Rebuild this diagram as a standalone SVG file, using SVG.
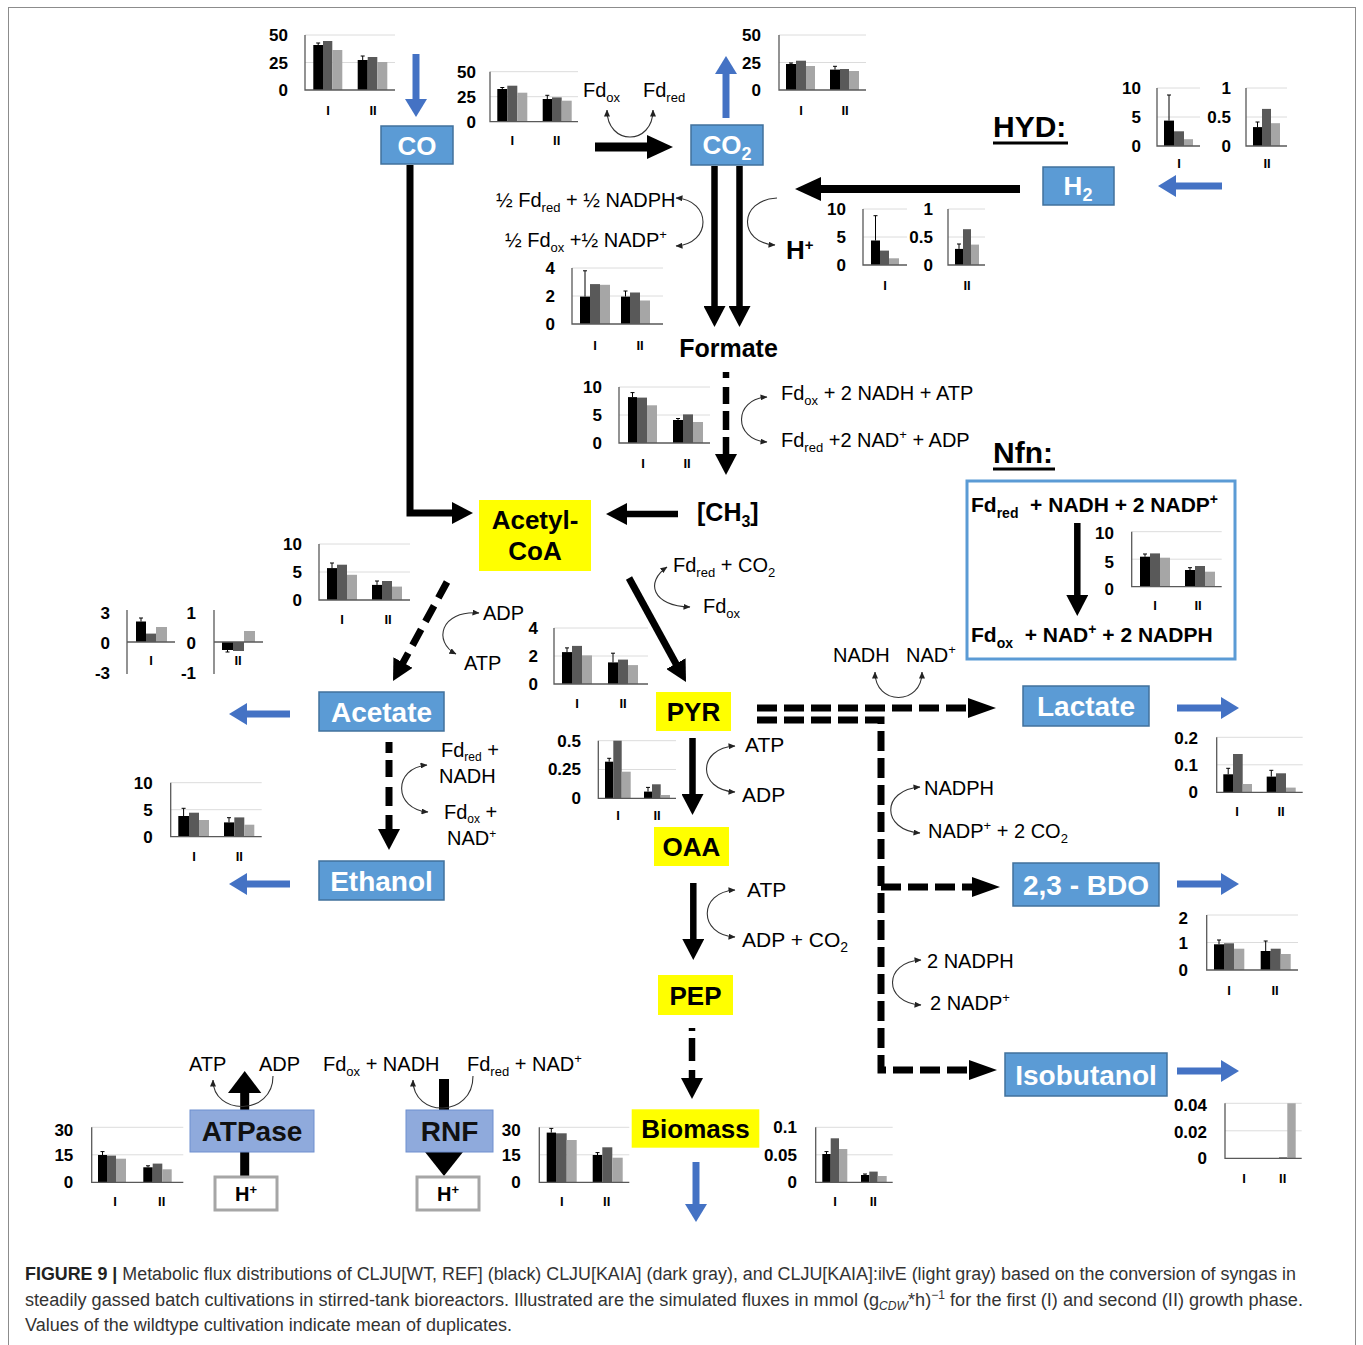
<svg xmlns="http://www.w3.org/2000/svg" width="1363" height="1345" viewBox="0 0 1363 1345">
<style>
.yl{font-family:"Liberation Sans",Arial,sans-serif;font-weight:bold;font-size:17px;text-anchor:end;fill:#000}
.xl{font-family:"Liberation Sans",Arial,sans-serif;font-weight:bold;font-size:13px;text-anchor:middle;fill:#000}
.ax{stroke:#595959;stroke-width:1.3;fill:none}
.gr{stroke:#dcdcdc;stroke-width:1;fill:none}
.k{fill:#000}.d{fill:#595959}.l{fill:#a6a6a6}
.eb{stroke:#000;stroke-width:1;fill:none}
.lb{font-family:"Liberation Sans",Arial,sans-serif;font-size:20px;fill:#000}
.lb21{font-family:"Liberation Sans",Arial,sans-serif;font-size:21px;fill:#000}
.bb{fill:#5b9bd5;stroke:#41719c;stroke-width:1.5}
.bt{font-family:"Liberation Sans",Arial,sans-serif;font-weight:bold;font-size:28px;fill:#fff;text-anchor:middle}
.bt26{font-family:"Liberation Sans",Arial,sans-serif;font-weight:bold;font-size:26px;fill:#fff;text-anchor:middle}
.yb{fill:#ffff00}
.yt{font-family:"Liberation Sans",Arial,sans-serif;font-weight:bold;font-size:26px;fill:#000;text-anchor:middle}
.pb{fill:#8faadc;stroke:#6f8fcf;stroke-width:1}
.pt{font-family:"Liberation Sans",Arial,sans-serif;font-weight:bold;font-size:28px;fill:#111;text-anchor:middle}
.hb{fill:#fff;stroke:#a6a6a6;stroke-width:3}
.ht{font-family:"Liberation Sans",Arial,sans-serif;font-weight:bold;font-size:20px;fill:#000;text-anchor:middle}
.bl{font-family:"Liberation Sans",Arial,sans-serif;font-weight:bold;fill:#000}
.arc{fill:none;stroke:#333;stroke-width:1.1;marker-end:url(#hs)}
.arc2{fill:none;stroke:#333;stroke-width:1.1;marker-start:url(#hs);marker-end:url(#hs)}
.arcS{fill:none;stroke:#333;stroke-width:1.1;marker-start:url(#hs)}
.sh{stroke:#000;stroke-width:7;fill:none;marker-end:url(#hk)}
.ds{stroke:#000;stroke-width:7;fill:none;stroke-dasharray:20 7;marker-end:url(#hd)}
.blu{stroke:#4472c4;stroke-width:7;fill:none;marker-end:url(#hb)}
.cap{font-family:"Liberation Sans",Arial,sans-serif;font-size:18px;fill:#333}
</style>
<defs>
<marker id="hk" markerUnits="userSpaceOnUse" viewBox="0 0 21 22" markerWidth="21" markerHeight="22" refX="1" refY="11" orient="auto"><path d="M0,0L21,11L0,22z" fill="#000"/></marker>
<marker id="hK" markerUnits="userSpaceOnUse" viewBox="0 0 26 24" markerWidth="26" markerHeight="24" refX="1" refY="12" orient="auto"><path d="M0,0L26,12L0,24z" fill="#000"/></marker>
<marker id="hd" markerUnits="userSpaceOnUse" viewBox="0 0 28 20" markerWidth="28" markerHeight="20" refX="1" refY="10" orient="auto"><path d="M0,0L28,10L0,20z" fill="#000"/></marker>
<marker id="hb" markerUnits="userSpaceOnUse" viewBox="0 0 18 22" markerWidth="18" markerHeight="22" refX="1" refY="11" orient="auto"><path d="M0,0L18,11L0,22z" fill="#4472c4"/></marker>
<marker id="hs" markerUnits="userSpaceOnUse" viewBox="0 0 7 6" markerWidth="7" markerHeight="6" refX="6.5" refY="3" orient="auto-start-reverse"><path d="M0,0L7,3L0,6z" fill="#222"/></marker>
</defs>
<rect x="8.5" y="7.5" width="1347" height="1345" fill="#fff" stroke="#8c8c8c" stroke-width="1"/>

<g id="charts">
<g id="chart-co">
<path class="gr" d="M305,35H395M305,62.5H395"/>
<rect class="k" x="313.3" y="45" width="9.7" height="45"/><rect class="d" x="323" y="41" width="9.3" height="49"/><rect class="l" x="332.3" y="50" width="10" height="40"/>
<rect class="k" x="357.7" y="60" width="10" height="30"/><rect class="d" x="367.7" y="57" width="9.6" height="33"/><rect class="l" x="377.3" y="62" width="10" height="28"/>
<path class="eb" d="M318.2,45V43M316.2,43h4M362.7,60V56M360.7,56h4"/>
<path class="ax" d="M305,35V90H395"/>
<text class="yl" x="288" y="41">50</text><text class="yl" x="288" y="68.5">25</text><text class="yl" x="288" y="96">0</text>
<text class="xl" x="328" y="114.5">I</text><text class="xl" x="373" y="114.5">II</text>
</g>
<g id="chart-co2in">
<path class="gr" d="M490,71.7H578M490,96.7H578"/>
<rect class="k" x="497.3" y="89" width="10" height="32.7"/><rect class="d" x="507.3" y="85.7" width="10" height="36"/><rect class="l" x="517.3" y="92.7" width="10" height="29"/>
<rect class="k" x="542.7" y="99" width="9.3" height="22.7"/><rect class="d" x="552" y="97.4" width="9.7" height="24.3"/><rect class="l" x="561.7" y="100.7" width="10" height="21"/>
<path class="eb" d="M502.3,89V87.5M500.3,87.5h4M547.3,99V95.3M545.3,95.3h4"/>
<path class="ax" d="M490,71.7V121.7H578"/>
<text class="yl" x="476" y="77.7">50</text><text class="yl" x="476" y="102.7">25</text><text class="yl" x="476" y="127.7">0</text>
<text class="xl" x="512.3" y="145">I</text><text class="xl" x="556.7" y="145">II</text>
</g>
<g id="chart-co2out">
<path class="gr" d="M779,35H866M779,62.5H866"/>
<rect class="k" x="786" y="64" width="10" height="26"/><rect class="d" x="796" y="60.7" width="10" height="29.3"/><rect class="l" x="806" y="66" width="9" height="24"/>
<rect class="k" x="830" y="69.6" width="10" height="20.4"/><rect class="d" x="840" y="69" width="9" height="21"/><rect class="l" x="849" y="71" width="10" height="19"/>
<path class="eb" d="M791,64V63M789,63h4M835,69.6V66.3M833,66.3h4"/>
<path class="ax" d="M779,35V90H866"/>
<text class="yl" x="761" y="41">50</text><text class="yl" x="761" y="68.5">25</text><text class="yl" x="761" y="96">0</text>
<text class="xl" x="801" y="114.5">I</text><text class="xl" x="845" y="114.5">II</text>
</g>
<g id="chart-hyd1">
<path class="gr" d="M1157,88H1200M1157,117H1200"/>
<rect class="k" x="1164" y="120.6" width="10" height="25.4"/><rect class="d" x="1174" y="131.3" width="10" height="14.7"/><rect class="l" x="1184" y="139.2" width="9" height="6.8"/>
<path class="eb" d="M1169,120.6V95M1167,95h4"/>
<path class="ax" d="M1157,88V146H1200"/>
<text class="yl" x="1141" y="94">10</text><text class="yl" x="1141" y="123">5</text><text class="yl" x="1141" y="152">0</text>
<text class="xl" x="1179" y="167.5">I</text>
</g>
<g id="chart-hyd2">
<path class="gr" d="M1246,88H1287M1246,117H1287"/>
<rect class="k" x="1253" y="127.1" width="9" height="18.9"/><rect class="d" x="1262" y="108.9" width="9" height="37.1"/><rect class="l" x="1271" y="123.2" width="9" height="22.8"/>
<path class="eb" d="M1257.5,127.1V122M1255.5,122h4"/>
<path class="ax" d="M1246,88V146H1287"/>
<text class="yl" x="1231" y="94">1</text><text class="yl" x="1231" y="123">0.5</text><text class="yl" x="1231" y="152">0</text>
<text class="xl" x="1267" y="167.5">II</text>
</g>
<g id="chart-h2a">
<path class="gr" d="M863,209H907M863,237H907"/>
<rect class="k" x="871" y="240.5" width="9" height="24.5"/><rect class="d" x="880" y="250.6" width="9" height="14.4"/><rect class="l" x="889" y="258.3" width="10" height="6.7"/>
<path class="eb" d="M875.5,240.5V215.7M873.5,215.7h4"/>
<path class="ax" d="M863,209V265H907"/>
<text class="yl" x="846" y="215">10</text><text class="yl" x="846" y="243">5</text><text class="yl" x="846" y="271">0</text>
<text class="xl" x="885" y="289.5">I</text>
</g>
<g id="chart-h2b">
<path class="gr" d="M948,209H985M948,237H985"/>
<rect class="k" x="955" y="248.9" width="8" height="16.1"/><rect class="d" x="963" y="229.2" width="8" height="35.8"/><rect class="l" x="971" y="244.6" width="8" height="20.4"/>
<path class="eb" d="M959,248.9V244M957,244h4"/>
<path class="ax" d="M948,209V265H985"/>
<text class="yl" x="933" y="215">1</text><text class="yl" x="933" y="243">0.5</text><text class="yl" x="933" y="271">0</text>
<text class="xl" x="967" y="289.5">II</text>
</g>
<g id="chart-fdh">
<path class="gr" d="M572,268H663M572,296H663"/>
<rect class="k" x="580" y="296.6" width="10" height="27.4"/><rect class="d" x="590" y="284.1" width="10" height="39.9"/><rect class="l" x="600" y="284.8" width="10" height="39.2"/>
<rect class="k" x="621" y="296.6" width="9" height="27.4"/><rect class="d" x="630" y="292.5" width="10" height="31.5"/><rect class="l" x="640" y="300.5" width="10" height="23.5"/>
<path class="eb" d="M585,296.6V270.8M583,270.8h4M625.5,296.6V291M623.5,291h4"/>
<path class="ax" d="M572,268V324H663"/>
<text class="yl" x="555" y="274">4</text><text class="yl" x="555" y="302">2</text><text class="yl" x="555" y="330">0</text>
<text class="xl" x="595" y="349.5">I</text><text class="xl" x="640" y="349.5">II</text>
</g>
<g id="chart-fthfs">
<path class="gr" d="M619,387H710M619,415H710"/>
<rect class="k" x="628" y="397.1" width="9" height="45.9"/><rect class="d" x="637" y="397.6" width="10" height="45.4"/><rect class="l" x="647" y="405.3" width="10" height="37.7"/>
<rect class="k" x="673" y="420" width="10" height="23"/><rect class="d" x="683" y="414.4" width="10" height="28.6"/><rect class="l" x="693" y="422" width="10" height="21"/>
<path class="eb" d="M632.5,397.1V392.6M630.5,392.6h4M678,420V418.5M676,418.5h4"/>
<path class="ax" d="M619,387V443H710"/>
<text class="yl" x="602" y="393">10</text><text class="yl" x="602" y="421">5</text><text class="yl" x="602" y="449">0</text>
<text class="xl" x="643" y="467.5">I</text><text class="xl" x="687" y="467.5">II</text>
</g>
<g id="chart-pta">
<path class="gr" d="M319,544H410M319,572H410"/>
<rect class="k" x="327" y="568.1" width="10" height="31.9"/><rect class="d" x="337" y="564.7" width="10" height="35.3"/><rect class="l" x="347" y="574.8" width="10" height="25.2"/>
<rect class="k" x="372" y="584.9" width="10" height="15.1"/><rect class="d" x="382" y="581" width="10" height="19"/><rect class="l" x="392" y="586.6" width="10" height="13.4"/>
<path class="eb" d="M332,568.1V563M330,563h4M377,584.9V581M375,581h4"/>
<path class="ax" d="M319,544V600H410"/>
<text class="yl" x="302" y="550">10</text><text class="yl" x="302" y="578">5</text><text class="yl" x="302" y="606">0</text>
<text class="xl" x="342" y="623.5">I</text><text class="xl" x="388" y="623.5">II</text>
</g>
<g id="chart-ac1">
<rect class="k" x="136" y="621.5" width="10" height="20.5"/><rect class="d" x="146" y="633.6" width="10" height="8.4"/><rect class="l" x="156" y="627" width="11" height="15"/>
<path class="eb" d="M141,621.5V618M139,618h4"/>
<path class="ax" d="M127,610V674M127,642H175"/>
<text class="yl" x="110" y="619">3</text><text class="yl" x="110" y="649">0</text><text class="yl" x="110" y="679">-3</text>
<text class="xl" x="151" y="664.5">I</text>
</g>
<g id="chart-ac2">
<rect class="k" x="222" y="642" width="11" height="8"/><rect class="d" x="233" y="642" width="11" height="9"/><rect class="l" x="244" y="631" width="11" height="11"/>
<path class="eb" d="M227.5,650V652M225.5,652h4"/>
<path class="ax" d="M214,610V674M214,642H263"/>
<text class="yl" x="196" y="619">1</text><text class="yl" x="196" y="649">0</text><text class="yl" x="196" y="679">-1</text>
<text class="xl" x="238" y="664.5">II</text>
</g>
<g id="chart-ack">
<path class="gr" d="M554,628H648M554,656H648"/>
<rect class="k" x="562" y="652.1" width="10" height="31.9"/><rect class="d" x="572" y="645.9" width="10" height="38.1"/><rect class="l" x="582" y="655.4" width="10" height="28.6"/>
<rect class="k" x="608" y="662.4" width="10" height="21.6"/><rect class="d" x="618" y="659.6" width="10" height="24.4"/><rect class="l" x="628" y="665.1" width="10" height="18.9"/>
<path class="eb" d="M567,652.1V647.9M565,647.9h4M613,662.4V653.2M611,653.2h4"/>
<path class="ax" d="M554,628V684H648"/>
<text class="yl" x="538" y="634">4</text><text class="yl" x="538" y="662">2</text><text class="yl" x="538" y="690">0</text>
<text class="xl" x="577" y="707.5">I</text><text class="xl" x="623" y="707.5">II</text>
</g>
<g id="chart-nfn">
<path class="gr" d="M1131.7,531.7H1221.7M1131.7,559.2H1221.7"/>
<rect class="k" x="1140" y="556.7" width="10" height="30"/><rect class="d" x="1150" y="553.4" width="10" height="33.3"/><rect class="l" x="1160" y="557.7" width="10" height="29"/>
<rect class="k" x="1185" y="570" width="10" height="16.7"/><rect class="d" x="1195" y="566" width="10" height="20.7"/><rect class="l" x="1205" y="571.7" width="10" height="15"/>
<path class="eb" d="M1145,556.7V554M1143,554h4M1190,570V567.7M1188,567.7h4"/>
<path class="ax" d="M1131.7,531.7V586.7H1221.7"/>
<text class="yl" x="1114" y="539">10</text><text class="yl" x="1114" y="568">5</text><text class="yl" x="1114" y="595">0</text>
<text class="xl" x="1155" y="609.5">I</text><text class="xl" x="1198" y="609.5">II</text>
</g>
<g id="chart-pyc">
<path class="gr" d="M598.3,740.7H676M598.3,769.5H676"/>
<rect class="k" x="605" y="761.7" width="8.3" height="36.6"/><rect class="d" x="613.3" y="740.7" width="8.4" height="57.6"/><rect class="l" x="621.7" y="771.7" width="9" height="26.6"/>
<rect class="k" x="644" y="791.6" width="8" height="6.7"/><rect class="d" x="652" y="784.3" width="8.7" height="14"/><rect class="l" x="660.7" y="795" width="9.3" height="3.3"/>
<path class="eb" d="M609.2,761.7V758.3M607.2,758.3h4M648,791.6V787.4M646,787.4h4"/>
<path class="ax" d="M598.3,740.7V798.3H676"/>
<text class="yl" x="581" y="746.7">0.5</text><text class="yl" x="581" y="775">0.25</text><text class="yl" x="581" y="804">0</text>
<text class="xl" x="618" y="819.5">I</text><text class="xl" x="657" y="819.5">II</text>
</g>
<g id="chart-lac">
<path class="gr" d="M1216.7,737.3H1302.7M1216.7,764.8H1302.7"/>
<rect class="k" x="1223.3" y="774.3" width="9.7" height="18"/><rect class="d" x="1233" y="754" width="9.7" height="38.3"/><rect class="l" x="1242.7" y="784" width="9.3" height="8.3"/>
<rect class="k" x="1266.7" y="776.6" width="9.3" height="15.7"/><rect class="d" x="1276" y="773.3" width="10" height="19"/><rect class="l" x="1286" y="787.6" width="9.7" height="4.7"/>
<path class="eb" d="M1228.2,774.3V768.3M1226.2,768.3h4M1271.3,776.6V770.3M1269.3,770.3h4"/>
<path class="ax" d="M1216.7,737.3V792.3H1302.7"/>
<text class="yl" x="1198" y="744">0.2</text><text class="yl" x="1198" y="771">0.1</text><text class="yl" x="1198" y="798">0</text>
<text class="xl" x="1237" y="816">I</text><text class="xl" x="1281" y="816">II</text>
</g>
<g id="chart-bdo">
<path class="gr" d="M1206.7,915H1298M1206.7,942.5H1298"/>
<rect class="k" x="1214" y="944.3" width="10" height="25.7"/><rect class="d" x="1224" y="943.3" width="10" height="26.7"/><rect class="l" x="1234" y="948.7" width="10.3" height="21.3"/>
<rect class="k" x="1260.7" y="951" width="10" height="19"/><rect class="d" x="1270.7" y="948.7" width="10" height="21.3"/><rect class="l" x="1280.7" y="954" width="10" height="16"/>
<path class="eb" d="M1219,944.3V940M1217,940h4M1265.7,951V941M1263.7,941h4"/>
<path class="ax" d="M1206.7,915V970H1298"/>
<text class="yl" x="1188" y="924">2</text><text class="yl" x="1188" y="949">1</text><text class="yl" x="1188" y="976">0</text>
<text class="xl" x="1229" y="994.5">I</text><text class="xl" x="1275" y="994.5">II</text>
</g>
<g id="chart-ibu">
<path class="gr" d="M1225,1103.3H1301.7M1225,1130.8H1301.7"/>
<rect class="d" x="1279" y="1157.3" width="8.3" height="1"/><rect class="l" x="1287.3" y="1103.3" width="8.4" height="55"/>
<path class="ax" d="M1225,1103.3V1158.3H1301.7"/>
<text class="yl" x="1207" y="1111">0.04</text><text class="yl" x="1207" y="1137.7">0.02</text><text class="yl" x="1207" y="1164">0</text>
<text class="xl" x="1244" y="1182.5">I</text><text class="xl" x="1282.7" y="1182.5">II</text>
</g>
<g id="chart-atp">
<path class="gr" d="M91.7,1127.3H183.3M91.7,1154.8H183.3"/>
<rect class="k" x="98" y="1155" width="9" height="27.3"/><rect class="d" x="107" y="1155.6" width="9" height="26.7"/><rect class="l" x="116" y="1158.7" width="10" height="23.6"/>
<rect class="k" x="143.3" y="1167.3" width="9.4" height="15"/><rect class="d" x="152.7" y="1163.6" width="9.6" height="18.7"/><rect class="l" x="162.3" y="1169.3" width="9.4" height="13"/>
<path class="eb" d="M102.5,1155V1151.6M100.5,1151.6h4M148,1167.3V1165.8M146,1165.8h4"/>
<path class="ax" d="M91.7,1127.3V1182.3H183.3"/>
<text class="yl" x="73.3" y="1136">30</text><text class="yl" x="73.3" y="1161">15</text><text class="yl" x="73.3" y="1188">0</text>
<text class="xl" x="115" y="1206">I</text><text class="xl" x="161.7" y="1206">II</text>
</g>
<g id="chart-rnf">
<path class="gr" d="M539.3,1127.3H629.3M539.3,1154.8H629.3"/>
<rect class="k" x="546.7" y="1132.6" width="9.3" height="49.7"/><rect class="d" x="556" y="1133.3" width="10.7" height="49"/><rect class="l" x="566.7" y="1140" width="10" height="42.3"/>
<rect class="k" x="592.7" y="1155" width="9.6" height="27.3"/><rect class="d" x="602.3" y="1147.3" width="10" height="35"/><rect class="l" x="612.3" y="1157.7" width="10.4" height="24.6"/>
<path class="eb" d="M551.3,1132.6V1128.4M549.3,1128.4h4M597.5,1155V1152.6M595.5,1152.6h4"/>
<path class="ax" d="M539.3,1127.3V1182.3H629.3"/>
<text class="yl" x="520.7" y="1136">30</text><text class="yl" x="520.7" y="1161">15</text><text class="yl" x="520.7" y="1188">0</text>
<text class="xl" x="561.7" y="1206">I</text><text class="xl" x="606.7" y="1206">II</text>
</g>
<g id="chart-bio">
<path class="gr" d="M815.7,1127.3H892.7M815.7,1154.8H892.7"/>
<rect class="k" x="822.3" y="1154" width="8.4" height="28.3"/><rect class="d" x="830.7" y="1138.3" width="8.3" height="44"/><rect class="l" x="839" y="1149" width="8.3" height="33.3"/>
<rect class="k" x="861" y="1175" width="8.3" height="7.3"/><rect class="d" x="869.3" y="1171.6" width="8.4" height="10.7"/><rect class="l" x="877.7" y="1176" width="9" height="6.3"/>
<path class="eb" d="M826.5,1154V1151.6M824.5,1151.6h4M865,1175V1174M863,1174h4"/>
<path class="ax" d="M815.7,1127.3V1182.3H892.7"/>
<text class="yl" x="797" y="1133">0.1</text><text class="yl" x="797" y="1161">0.05</text><text class="yl" x="797" y="1188">0</text>
<text class="xl" x="835" y="1206">I</text><text class="xl" x="873.3" y="1206">II</text>
</g>
<g id="chart-eth">
<path class="gr" d="M170.7,782.7H261.7M170.7,809.7H261.7"/>
<rect class="k" x="178.3" y="816" width="10.7" height="20.7"/><rect class="d" x="189" y="812.7" width="10" height="24"/><rect class="l" x="199" y="820" width="10" height="16.7"/>
<rect class="k" x="224" y="822.4" width="10.3" height="14.3"/><rect class="d" x="234.3" y="817.4" width="10" height="19.3"/><rect class="l" x="244.3" y="824.7" width="10" height="12"/>
<path class="eb" d="M183.6,816V808.3M181.6,808.3h4M229,822.4V817.7M227,817.7h4"/>
<path class="ax" d="M170.7,782.7V836.7H261.7"/>
<text class="yl" x="152.7" y="789">10</text><text class="yl" x="152.7" y="816">5</text><text class="yl" x="152.7" y="843">0</text>
<text class="xl" x="194" y="860.5">I</text><text class="xl" x="239.3" y="860.5">II</text>
</g>
</g>

<g id="connectors">
<path d="M595,147H648" stroke="#000" stroke-width="9" fill="none" marker-end="url(#hK)"/>
<path d="M1020,189H820" stroke="#000" stroke-width="8" fill="none" marker-end="url(#hK)"/>
<path class="sh" style="stroke-width:6.5" d="M714.5,166V307"/>
<path class="sh" style="stroke-width:6.5" d="M739.5,166V307"/>
<path class="sh" style="stroke-width:6.5" d="M726,372V378M726,387V404M726,411V430M726,437V455"/>
<path class="sh" style="stroke-width:6.5" d="M678,514H626"/>
<path class="sh" d="M410,165V513H453" stroke-linejoin="miter"/>
<path class="sh" d="M629,578L676.4,664.5"/>
<path class="sh" style="stroke-dasharray:18 9" d="M447,582L402.6,663.4"/>
<path class="sh" d="M389,742V753M389,760V777M389,787V806M389,815V830"/>
<path class="sh" style="stroke-width:6.5" d="M692.5,738V795"/>
<path class="sh" style="stroke-width:6.5" d="M693.3,883V940"/>
<path class="sh" style="stroke-width:6.5" d="M692,1028V1031M692,1038V1061M692,1070V1079"/>
<path class="sh" style="stroke-width:6.5" d="M1077.3,523V596"/>
<path class="ds" d="M757,708H969"/>
<path class="ds" d="M757,720H881V1070H970"/>
<path class="ds" d="M881,887H973"/>
<path class="blu" d="M416,54V100"/>
<path class="blu" d="M726,118V73"/>
<path class="blu" d="M1222,186H1175"/>
<path class="blu" d="M290,714H246"/>
<path class="blu" d="M290,884H246"/>
<path class="blu" d="M1177,708H1222"/>
<path class="blu" d="M1177,884H1222"/>
<path class="blu" d="M1177,1071H1222"/>
<path class="blu" d="M696,1162V1205"/>
<rect x="240.2" y="1092" width="9" height="85" fill="#000"/>
<polygon points="228,1093 244.7,1071 261.3,1093" fill="#000"/>
<rect x="439" y="1079" width="10" height="74" fill="#000"/>
<polygon points="425,1152 444,1176 463,1152" fill="#000"/>
<path class="arc2" d="M607,110C607,146 653,146 653,110"/>
<path class="arc2" d="M676,198C712,200 712,244 676,246"/>
<path class="arc" d="M777,198C738,200 738,243 775,245"/>
<path class="arc2" d="M767,397C733,399 733,440 767,442"/>
<path class="arc2" d="M479,613C440,610 433,642 456,654"/>
<path class="arc2" d="M667,567C645,582 652,606 690,607"/>
<path class="arc2" d="M427,765C393,768 393,809 428,812"/>
<path class="arc2" d="M735,746C697,748 697,790 735,792"/>
<path class="arc2" d="M735,890C698,892 698,935 735,937"/>
<path class="arc2" d="M875,672C875,706 922,706 922,672"/>
<path class="arc2" d="M920,787C881,790 881,830 920,833"/>
<path class="arc2" d="M921,960C883,962 883,1003 921,1005"/>
<path class="arcS" d="M213,1080C213,1116 273,1116 273,1076"/>
<path class="arcS" d="M413,1080C413,1118 473,1118 473,1076"/>
</g>

<g id="n-co"><rect class="bb" x="381" y="126" width="72" height="38"/><text class="bt26" x="417" y="154.5">CO</text></g>
<g id="n-co2"><rect class="bb" x="691" y="125" width="72" height="40"/><text class="bt26" x="727" y="154">CO<tspan dy="6" font-size="18">2</tspan></text></g>
<g id="n-h2"><rect class="bb" x="1043" y="167" width="71" height="38"/><text class="bt26" x="1078" y="195">H<tspan dy="6" font-size="18">2</tspan></text></g>
<g id="n-formate"><text class="bl" x="728.5" y="357" font-size="25" text-anchor="middle">Formate</text></g>
<g id="n-ch3"><text class="bl" x="697" y="521" font-size="25">[CH<tspan dy="6" font-size="16">3</tspan><tspan dy="-6">]</tspan></text></g>
<g id="n-hplus"><text class="bl" x="786" y="259" font-size="26">H<tspan dy="-9" font-size="15">+</tspan></text></g>
<g id="n-acetylcoa"><rect class="yb" x="479" y="500" width="112" height="71"/><text class="yt" x="535" y="529">Acetyl-</text><text class="yt" x="535" y="560">CoA</text></g>
<g id="n-acetate"><rect class="bb" x="319" y="692" width="125" height="39"/><text class="bt" x="381.5" y="721.5">Acetate</text></g>
<g id="n-ethanol"><rect class="bb" x="319" y="861" width="125" height="39"/><text class="bt" x="381.5" y="890.5">Ethanol</text></g>
<g id="n-pyr"><rect class="yb" x="656" y="692" width="75" height="39"/><text class="yt" x="693.5" y="721">PYR</text></g>
<g id="n-oaa"><rect class="yb" x="654" y="827" width="75" height="39"/><text class="yt" x="691.5" y="856">OAA</text></g>
<g id="n-pep"><rect class="yb" x="658" y="975" width="75" height="40"/><text class="yt" x="695.5" y="1004.5">PEP</text></g>
<g id="n-biomass"><rect class="yb" x="631.7" y="1109.3" width="127.6" height="38.4"/><text class="yt" x="695.5" y="1138">Biomass</text></g>
<g id="n-lactate"><rect class="bb" x="1023" y="686" width="126" height="40"/><text class="bt" x="1086" y="716">Lactate</text></g>
<g id="n-bdo"><rect class="bb" x="1013" y="863" width="146" height="43"/><text class="bt" x="1086" y="894.5">2,3 - BDO</text></g>
<g id="n-isobutanol"><rect class="bb" x="1005" y="1053" width="162" height="43"/><text class="bt" x="1086" y="1084.5">Isobutanol</text></g>
<g id="n-atpase"><rect class="pb" x="190" y="1110" width="124" height="42"/><text class="pt" x="252" y="1141">ATPase</text></g>
<g id="n-rnf"><rect class="pb" x="406" y="1110" width="87" height="42"/><text class="pt" x="449.5" y="1141">RNF</text></g>
<g id="n-hplus-atp"><rect class="hb" x="215" y="1177" width="62" height="33"/><text class="ht" x="246" y="1200.5">H<tspan dy="-7" font-size="13">+</tspan></text></g>
<g id="n-hplus-rnf"><rect class="hb" x="417" y="1177" width="62" height="33"/><text class="ht" x="448" y="1200.5">H<tspan dy="-7" font-size="13">+</tspan></text></g>
<g id="n-hyd"><text class="bl" x="993" y="137" font-size="30">HYD:</text><path d="M993,143H1068" stroke="#000" stroke-width="3"/></g>
<g id="n-nfn">
<text class="bl" x="993" y="463" font-size="30">Nfn:</text><path d="M993,469H1055" stroke="#000" stroke-width="3"/>
<rect x="967" y="481" width="268" height="178" fill="none" stroke="#5b9bd5" stroke-width="3"/>
<text class="bl" x="971" y="512" font-size="21">Fd<tspan dy="6" font-size="14">red</tspan><tspan dy="-6">&#160; + NADH + 2 NADP</tspan><tspan dy="-8" font-size="14">+</tspan></text>
<text class="bl" x="971" y="642" font-size="21">Fd<tspan dy="6" font-size="14">ox</tspan><tspan dy="-6">&#160; + NAD</tspan><tspan dy="-8" font-size="14">+</tspan><tspan dy="8"> + 2 NADPH</tspan></text>
</g>

<g id="labels">
<text class="lb" x="583" y="97">Fd<tspan dy="5" font-size="13">ox</tspan></text>
<text class="lb" x="643" y="97">Fd<tspan dy="5" font-size="13">red</tspan></text>
<text class="lb" x="496" y="207">½ Fd<tspan dy="5" font-size="13">red</tspan><tspan dy="-5"> + ½ NADPH</tspan></text>
<text class="lb" x="505" y="247">½ Fd<tspan dy="5" font-size="13">ox</tspan><tspan dy="-5"> +½ NADP</tspan><tspan dy="-8" font-size="13">+</tspan></text>
<text class="lb" x="781" y="400">Fd<tspan dy="5" font-size="13">ox</tspan><tspan dy="-5"> + 2 NADH + ATP</tspan></text>
<text class="lb" x="781" y="447">Fd<tspan dy="5" font-size="13">red</tspan><tspan dy="-5"> +2 NAD</tspan><tspan dy="-8" font-size="13">+</tspan><tspan dy="8"> + ADP</tspan></text>
<text class="lb" x="673" y="572">Fd<tspan dy="5" font-size="13">red</tspan><tspan dy="-5"> + CO</tspan><tspan dy="5" font-size="13">2</tspan></text>
<text class="lb" x="703" y="613">Fd<tspan dy="5" font-size="13">ox</tspan></text>
<text class="lb" x="483" y="620">ADP</text>
<text class="lb" x="464" y="670">ATP</text>
<text class="lb" x="441" y="757">Fd<tspan dy="4" font-size="12">red</tspan><tspan dy="-4"> +</tspan></text>
<text class="lb" x="439" y="783">NADH</text>
<text class="lb" x="444" y="819">Fd<tspan dy="4" font-size="12">ox</tspan><tspan dy="-4"> +</tspan></text>
<text class="lb" x="447" y="845">NAD<tspan dy="-7" font-size="12">+</tspan></text>
<text class="lb21" x="745" y="752">ATP</text>
<text class="lb21" x="742" y="802">ADP</text>
<text class="lb21" x="747" y="897">ATP</text>
<text class="lb21" x="742" y="947">ADP + CO<tspan dy="5" font-size="14">2</tspan></text>
<text class="lb" x="833" y="662">NADH</text>
<text class="lb" x="906" y="662">NAD<tspan dy="-8" font-size="13">+</tspan></text>
<text class="lb" x="924" y="795">NADPH</text>
<text class="lb" x="928" y="838">NADP<tspan dy="-8" font-size="13">+</tspan><tspan dy="8"> + 2 CO</tspan><tspan dy="5" font-size="13">2</tspan></text>
<text class="lb" x="927" y="968">2 NADPH</text>
<text class="lb" x="930" y="1010">2 NADP<tspan dy="-8" font-size="13">+</tspan></text>
<text class="lb" x="189" y="1071">ATP</text>
<text class="lb" x="259" y="1071">ADP</text>
<text class="lb" x="323" y="1071">Fd<tspan dy="5" font-size="13">ox</tspan><tspan dy="-5"> + NADH</tspan></text>
<text class="lb" x="467" y="1071">Fd<tspan dy="5" font-size="13">red</tspan><tspan dy="-5"> + NAD</tspan><tspan dy="-8" font-size="13">+</tspan></text>
</g>

<g id="caption">
<text class="cap" x="25" y="1280" textLength="1271" lengthAdjust="spacingAndGlyphs"><tspan font-weight="bold" fill="#222">FIGURE 9 |</tspan> Metabolic flux distributions of CLJU[WT, REF] (black) CLJU[KAIA] (dark gray), and CLJU[KAIA]:ilvE (light gray) based on the conversion of syngas in</text>
<text class="cap" x="25" y="1306" textLength="1278" lengthAdjust="spacingAndGlyphs">steadily gassed batch cultivations in stirred-tank bioreactors. Illustrated are the simulated fluxes in mmol (g<tspan font-style="italic" font-size="12" dy="4">CDW</tspan><tspan dy="-4">*h)</tspan><tspan font-size="12" dy="-7">−1</tspan><tspan dy="7"> for the first (I) and second (II) growth phase.</tspan></text>
<text class="cap" x="25" y="1331">Values of the wildtype cultivation indicate mean of duplicates.</text>
</g>
</svg>
